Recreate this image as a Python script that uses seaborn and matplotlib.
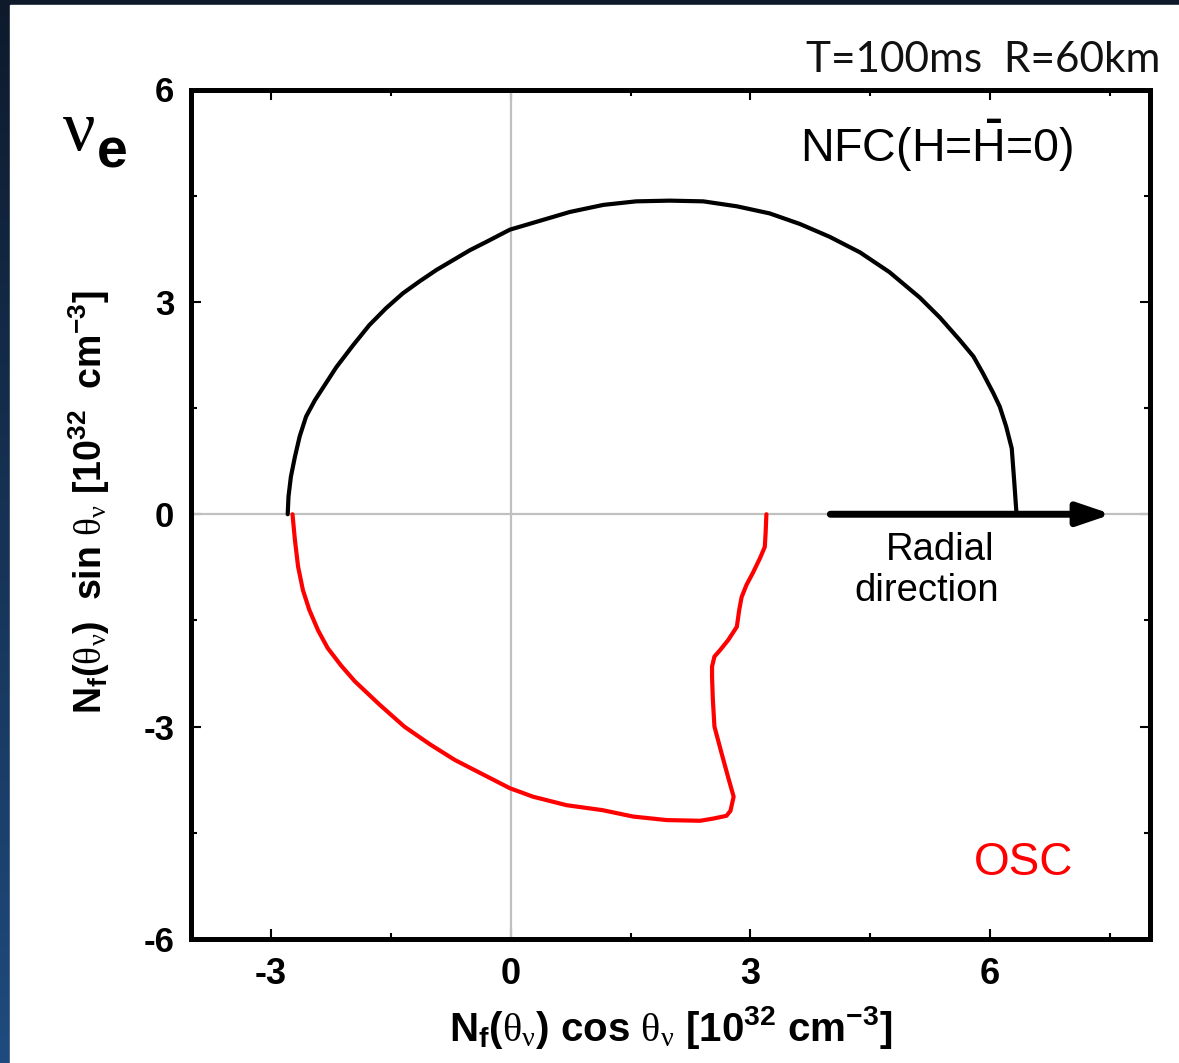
import numpy as np
import pandas as pd
import matplotlib
matplotlib.use("Agg")
import matplotlib.pyplot as plt
import seaborn as sns
from matplotlib import font_manager
from matplotlib.colors import LinearSegmentedColormap
from matplotlib.patches import Rectangle
from matplotlib.ticker import MultipleLocator, FixedLocator

# Angular distribution N_f(theta) in the (cos, sin) plane, units of 1e32 cm^-3
# No flavour conversion (upper half-plane)
nfc_x = [-2.79, -2.78, -2.75, -2.70, -2.64, -2.56, -2.45, -2.18, -1.97,
         -1.77, -1.56, -1.35, -1.14, -0.93, -0.72, -0.51, -0.30, -0.01, 0.32,
         0.74, 1.16, 1.57, 1.99, 2.41, 2.83, 3.24, 3.62, 3.99, 4.37, 4.74,
         5.12, 5.37, 5.62, 5.79, 5.91, 6.04, 6.12, 6.20, 6.27, 6.30, 6.33]
nfc_y = [0.00, 0.25, 0.53, 0.81, 1.10, 1.38, 1.61, 2.08, 2.39,
         2.67, 2.91, 3.12, 3.29, 3.45, 3.59, 3.73, 3.85, 4.02, 4.13,
         4.27, 4.37, 4.42, 4.43, 4.42, 4.35, 4.25, 4.10, 3.92, 3.70, 3.42,
         3.06, 2.78, 2.46, 2.23, 1.99, 1.71, 1.52, 1.24, 0.93, 0.48, 0.00]
# With collective oscillations (lower half-plane)
osc_x = [-2.73, -2.70, -2.66, -2.60, -2.52, -2.41, -2.29, -2.12, -1.95, -1.64,
         -1.33, -1.01, -0.70, -0.39, -0.01, 0.28, 0.70, 1.15, 1.53, 1.95,
         2.37, 2.53, 2.70, 2.75, 2.79, 2.72, 2.64, 2.55, 2.53, 2.52, 2.52,
         2.55, 2.62, 2.72, 2.83, 2.86, 2.89, 2.95, 3.03, 3.12, 3.18, 3.19, 3.20]
osc_y = [0.00, -0.36, -0.74, -1.07, -1.35, -1.64, -1.89, -2.14, -2.36, -2.69,
         -3.00, -3.25, -3.47, -3.65, -3.87, -3.99, -4.11, -4.18, -4.27, -4.32,
         -4.33, -4.30, -4.26, -4.19, -3.99, -3.71, -3.38, -3.00, -2.62, -2.30, -2.15,
         -2.01, -1.92, -1.78, -1.59, -1.35, -1.17, -1.00, -0.83, -0.62, -0.46, -0.27, 0.00]

x_ticks = [-3, 0, 3, 6]
y_ticks = [-6, -3, 0, 3, 6]
x_limits = (-4, 8)
y_limits = (-6, 6)
radial_arrow = (4.0, 7.52)

sns.set_style("ticks")
names = {f.name for f in font_manager.fontManager.ttflist}
narrow = "Liberation Sans Narrow" if "Liberation Sans Narrow" in names else "Liberation Sans"
plt.rcParams["font.family"] = ["Liberation Sans", "DejaVu Sans"]
plt.rcParams["text.color"] = "black"
plt.rcParams["axes.labelcolor"] = "black"
plt.rcParams["xtick.color"] = "black"
plt.rcParams["ytick.color"] = "black"
plt.rcParams["mathtext.fontset"] = "custom"
plt.rcParams["mathtext.default"] = "bf"
plt.rcParams["mathtext.bf"] = "Liberation Sans:bold"
plt.rcParams["mathtext.rm"] = "Liberation Serif"
plt.rcParams["mathtext.it"] = "Liberation Sans:italic"
plt.rcParams["mathtext.sf"] = "Liberation Sans"

W, H = 1179, 1063
fig = plt.figure(figsize=(W / 100, H / 100), dpi=100)

# slide background with white content panel
bg = fig.add_axes([0, 0, 1, 1], zorder=-10)
bg.axis("off")
cmap = LinearSegmentedColormap.from_list("slide", ["#0e1a2c", "#1f4b7e"])
bg.imshow(np.linspace(0, 1, 256)[:, None], aspect="auto", cmap=cmap,
          extent=[0, 1, 0, 1], origin="upper")
bg.add_patch(Rectangle((10 / W, 0), 1, (H - 5) / H, color="white",
                       transform=bg.transAxes))
bg.set_xlim(0, 1)
bg.set_ylim(0, 1)

ax = fig.add_axes([191 / W, 1 - 939 / H, (1150 - 191) / W, (939 - 89.5) / H])
ax.set_facecolor("white")

ax.axhline(0, color="#c0c0c0", lw=1.6, zorder=1)
ax.axvline(0, color="#c0c0c0", lw=1.6, zorder=1)

nfc = pd.DataFrame({"x": nfc_x, "y": nfc_y})
osc = pd.DataFrame({"x": osc_x, "y": osc_y})
sns.lineplot(data=nfc, x="x", y="y", sort=False, estimator=None, color="black",
             lw=3.0, ax=ax, zorder=3, solid_joinstyle="round")
sns.lineplot(data=osc, x="x", y="y", sort=False, estimator=None, color="#ff0000",
             lw=3.0, ax=ax, zorder=3, solid_joinstyle="round")

ax.annotate("", xy=(radial_arrow[1], 0), xytext=(radial_arrow[0], 0),
            arrowprops=dict(arrowstyle="-|>,head_length=1.0,head_width=0.34",
                            mutation_scale=20, lw=5, color="black",
                            shrinkA=0, shrinkB=0), zorder=4)

ax.set_xlim(*x_limits)
ax.set_ylim(*y_limits)
ax.xaxis.set_major_locator(FixedLocator(x_ticks))
ax.yaxis.set_major_locator(FixedLocator(y_ticks))
ax.xaxis.set_minor_locator(MultipleLocator(1.5))
ax.yaxis.set_minor_locator(MultipleLocator(1.5))
ax.set_xticklabels([str(t) for t in x_ticks], fontweight="bold", fontsize=26,
                   family=narrow, color="black")
ax.set_yticklabels([str(t) for t in y_ticks], fontweight="bold", fontsize=25,
                   color="black")
ax.tick_params(which="both", direction="in", top=True, right=True, width=1.5,
               color="black")
ax.tick_params(which="major", length=7)
ax.tick_params(which="minor", length=4)
ax.tick_params(axis="x", pad=13)
ax.tick_params(axis="y", pad=12)
for s in ax.spines.values():
    s.set_linewidth(3.6)
    s.set_color("black")
    s.set_visible(True)

ax.set_xlabel(r"$\mathbf{N_f}(\mathrm{\theta_\nu})\ \mathbf{cos}\ \mathrm{\theta_\nu}\ \mathbf{[10^{32}\ cm^{-3}]}$",
              fontsize=29, va="center", ha="center", color="black")
ax.xaxis.set_label_coords(0.5005, -0.1036)
ax.set_ylabel(r"$\mathbf{N_f}(\mathrm{\theta_\nu})\ \ \mathbf{sin}\ \mathrm{\theta_\nu}\ \mathbf{[10^{32}\ \ cm^{-3}]}$",
              fontsize=27, va="center", ha="center", color="black")
ax.yaxis.set_label_coords((89 - 191) / 959, (939 - 502) / 849.5)

ax.text(0.635, 0.915, r"NFC(H=$\bar{\mathsf{H}}$=0)", transform=ax.transAxes,
        fontsize=33.5, ha="left", va="baseline", color="black")
ax.text(5.38, -0.646, "Radial", fontsize=27.5, ha="center", va="baseline",
        color="black")
ax.text(5.21, -1.225, "direction", fontsize=27.5, ha="center", va="baseline",
        color="black")
ax.text(5.8, -5.10, "OSC", fontsize=33, color="#ff0000", ha="left", va="baseline")

fig.text(1160 / W, 1 - 72 / H, "T=100ms  R=60km", family=["Lato", "DejaVu Sans"],
         fontsize=30.5, ha="right", va="baseline", color="#111111")
fig.text(63 / W, 1 - 150 / H, "\u03bd", family=["Liberation Serif"], fontsize=52,
         ha="left", va="baseline", color="black")
fig.text(97 / W, 1 - 168 / H, "e", fontweight="bold", fontsize=40,
         ha="left", va="baseline", color="black")

fig.savefig("out.png", dpi=100, facecolor=fig.get_facecolor())
